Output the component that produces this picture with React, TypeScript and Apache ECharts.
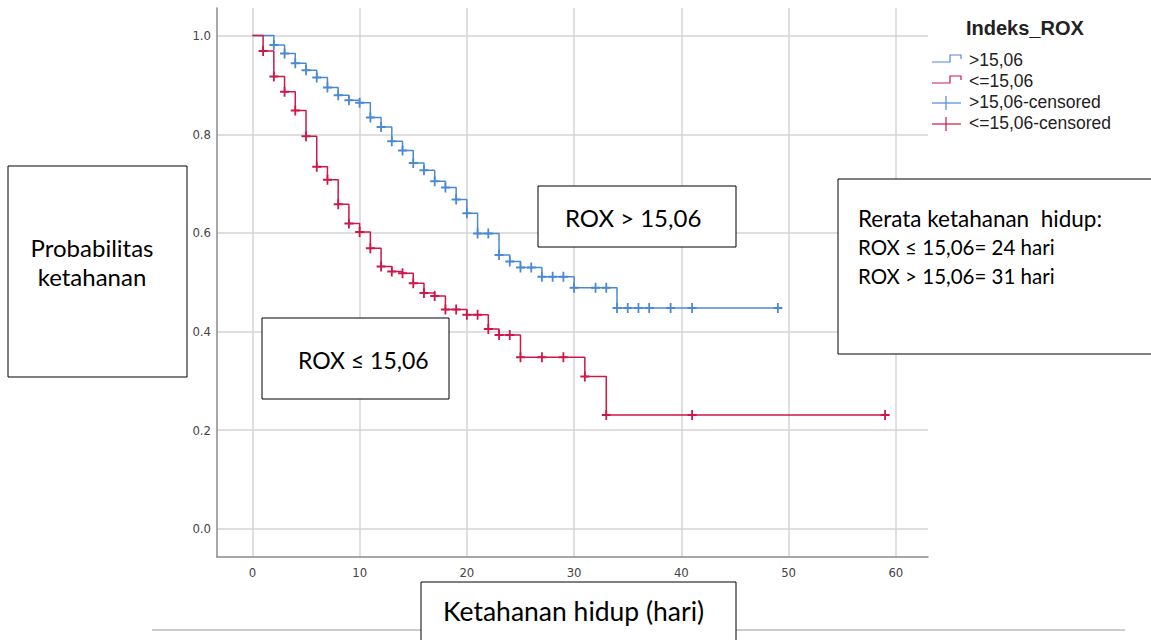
import React, { useEffect, useRef } from "react";
import * as echarts from "echarts";

// ---------- data ----------
const xTicks = [0, 10, 20, 30, 40, 50, 60];
const yTicks = [0, 0.2, 0.4, 0.6, 0.8, 1.0];

const groupHigh = ">15,06";
const groupLow = "<=15,06";
const groupHighCens = ">15,06-censored";
const groupLowCens = "<=15,06-censored";

// Kaplan-Meier step points (time in days, survival probability)
const highTimes = [0, 2, 3, 4, 5, 6, 7, 8, 9, 10, 11, 12, 13, 14, 15, 16, 17, 18, 19, 20, 21, 23, 24, 25, 27, 30, 34, 49];
const highSurv = [1.0, 0.981, 0.964, 0.944, 0.93, 0.915, 0.895, 0.879, 0.869, 0.864, 0.834, 0.815, 0.786, 0.767, 0.742, 0.727, 0.705, 0.692, 0.668, 0.64, 0.599, 0.555, 0.542, 0.53, 0.511, 0.489, 0.448, 0.448];
const highCensored = [2, 3, 4, 5, 6, 7, 8, 9, 10, 11, 12, 13, 14, 15, 16, 17, 18, 19, 20, 21, 22, 23, 24, 25, 26, 27, 28, 29, 30, 32, 33, 34, 35, 36, 37, 39, 41, 49];

const lowTimes = [0, 1, 2, 3, 4, 5, 6, 7, 8, 9, 10, 11, 12, 13, 14, 15, 16, 17, 18, 20, 22, 23, 25, 31, 33, 59];
const lowSurv = [1.0, 0.969, 0.917, 0.886, 0.848, 0.796, 0.734, 0.708, 0.658, 0.619, 0.602, 0.569, 0.532, 0.522, 0.518, 0.498, 0.478, 0.472, 0.445, 0.434, 0.405, 0.393, 0.348, 0.309, 0.231, 0.231];
const lowCensored = [1, 2, 3, 4, 5, 6, 7, 8, 9, 10, 11, 12, 13, 14, 15, 16, 17, 18, 19, 20, 21, 22, 23, 24, 25, 27, 29, 31, 33, 41, 59];

const titleLegend = "Indeks_ROX";
const labelY = ["Probabilitas", "ketahanan"];
const labelX = "Ketahanan hidup (hari)";
const noteHigh = "ROX > 15,06";
const noteLow = "ROX \u2264 15,06";
const noteMean = ["Rerata ketahanan  hidup:", "ROX \u2264 15,06= 24 hari", "ROX > 15,06= 31 hari"];

// ---------- helpers ----------
const BLUE = "#4b8ad3";
const RED = "#cf1748";
const PLUS = "path://M4,0 L6,0 L6,4 L10,4 L10,6 L6,6 L6,10 L4,10 L4,6 L0,6 L0,4 L4,4 Z";

function survAt(times: number[], surv: number[], t: number) {
  let v = surv[0];
  for (let i = 0; i < times.length; i++) if (times[i] <= t) v = surv[i];
  return v;
}

const NOTE_FONT = "Lato, 'Open Sans', sans-serif";

function txt(text: string, x: number, y: number, size: number, extra: any = {}) {
  return {
    type: "text",
    x,
    y,
    z: 101,
    style: {
      text,
      fill: "#000",
      fontSize: size,
      fontFamily: NOTE_FONT,
      align: "left",
      textAlign: "left",
      verticalAlign: "middle",
      textVerticalAlign: "middle",
      ...extra,
    },
  };
}

function box(x: number, y: number, w: number, h: number) {
  return {
    type: "rect",
    z: 100,
    shape: { x, y, width: w, height: h },
    style: { fill: "#fff", stroke: "#000", lineWidth: 1 },
  };
}

export default function App() {
  const ref = useRef<HTMLDivElement>(null);
  useEffect(() => {
    if (!ref.current) return;
    const chart = echarts.init(ref.current, null, { renderer: "svg" });
    const legendFont = "'Liberation Sans', Arial, sans-serif";
    const legendRows = [
      { name: groupHigh, color: BLUE, step: true, y: 60 },
      { name: groupLow, color: RED, step: true, y: 81 },
      { name: groupHighCens, color: BLUE, step: false, y: 102 },
      { name: groupLowCens, color: RED, step: false, y: 123 },
    ];
    const legendEls: any[] = [];
    legendRows.forEach((r) => {
      if (r.step) {
        legendEls.push({
          type: "polyline",
          z: 50,
          shape: { points: [[932, r.y + 2], [950, r.y + 2], [950, r.y - 5], [961, r.y - 5], [961, r.y - 1]] },
          style: { stroke: r.color, lineWidth: 1.2, fill: "none" },
        });
      } else {
        legendEls.push({
          type: "line",
          z: 50,
          shape: { x1: 932, y1: r.y + 1, x2: 961, y2: r.y + 1 },
          style: { stroke: r.color, lineWidth: 1.2 },
        });
        legendEls.push({
          type: "line",
          z: 50,
          shape: { x1: 946, y1: r.y - 6, x2: 946, y2: r.y + 8 },
          style: { stroke: r.color, lineWidth: 1.2 },
        });
      }
      legendEls.push({
        type: "text",
        x: 969,
        y: r.y,
        z: 50,
        style: {
          text: r.name,
          fill: "#222",
          fontSize: 17.5,
          fontFamily: legendFont,
          align: "left",
          textAlign: "left",
          verticalAlign: "middle",
          textVerticalAlign: "middle",
        },
      });
    });

    const option: any = {
      animation: false,
      backgroundColor: "#fff",
      grid: { left: 217, top: 8, right: 223, bottom: 83 },
      xAxis: {
        type: "value",
        min: -3.3,
        max: 63,
        axisLine: { show: true, onZero: false, lineStyle: { color: "#8a8a8a", width: 1.5 } },
        axisTick: { show: false, customValues: xTicks },
        axisLabel: {
          customValues: xTicks,
          color: "#444",
          fontSize: 13,
          fontFamily: "'DejaVu Sans Condensed', 'DejaVu Sans', sans-serif",
          margin: 9,
        },
        splitLine: { show: true, lineStyle: { color: "#d4d4d4", width: 1.5 } },
      },
      yAxis: {
        type: "value",
        min: -0.057,
        max: 1.056,
        axisLine: { show: true, onZero: false, lineStyle: { color: "#8a8a8a", width: 1.5 } },
        axisTick: { show: false, customValues: yTicks },
        axisLabel: {
          customValues: yTicks,
          color: "#444",
          fontSize: 13,
          fontFamily: "'DejaVu Sans Condensed', 'DejaVu Sans', sans-serif",
          margin: 6,
          formatter: (v: number) => v.toFixed(1),
        },
        splitLine: { show: true, lineStyle: { color: "#d4d4d4", width: 1.5 } },
      },
      series: [
        {
          name: groupHigh,
          type: "line",
          step: "end",
          showSymbol: false,
          silent: true,
          data: highTimes.map((t, i) => [t, highSurv[i]]),
          lineStyle: { color: BLUE, width: 1.5 },
          itemStyle: { color: BLUE },
        },
        {
          name: groupLow,
          type: "line",
          step: "end",
          showSymbol: false,
          silent: true,
          data: lowTimes.map((t, i) => [t, lowSurv[i]]),
          lineStyle: { color: RED, width: 1.5 },
          itemStyle: { color: RED },
        },
        {
          name: groupHighCens,
          type: "scatter",
          silent: true,
          symbol: PLUS,
          symbolSize: [9, 10],
          data: highCensored.map((t) => [t, survAt(highTimes, highSurv, t)]),
          itemStyle: { color: BLUE, opacity: 1 },
        },
        {
          name: groupLowCens,
          type: "scatter",
          silent: true,
          symbol: PLUS,
          symbolSize: [9, 10],
          data: lowCensored.map((t) => [t, survAt(lowTimes, lowSurv, t)]),
          itemStyle: { color: RED, opacity: 1 },
        },
      ],
      graphic: [
        {
          type: "text",
          x: 966,
          y: 28,
          z: 50,
          style: {
            text: titleLegend,
            fill: "#222",
            fontSize: 20,
            fontWeight: "bold",
            fontFamily: "'Liberation Sans', Arial, sans-serif",
            align: "left",
            textAlign: "left",
            verticalAlign: "middle",
            textVerticalAlign: "middle",
          },
        },
        ...legendEls,
        {
          type: "line",
          z: 90,
          shape: { x1: 152, y1: 630, x2: 1125, y2: 630 },
          style: { stroke: "#9a9a9a", lineWidth: 1 },
        },
        box(8, 166, 179, 211),
        txt(labelY[0], 92, 247, 24, { align: "center", textAlign: "center" }),
        txt(labelY[1], 92, 276, 24, { align: "center", textAlign: "center" }),
        box(538, 186, 198, 61),
        txt(noteHigh, 565, 217, 24),
        box(838, 179, 330, 175),
        txt(noteMean[0], 858, 218, 22.5),
        txt(noteMean[1], 858, 247, 20.5),
        txt(noteMean[2], 858, 276, 20.5),
        box(262, 318, 187, 81),
        txt(noteLow, 298, 360, 23),
        box(421, 582, 315, 80),
        txt(labelX, 443, 611, 26.5),
      ],
    };
    chart.setOption(option);
    return () => chart.dispose();
  }, []);
  return (
    <div
      ref={ref}
      style={{ position: "fixed", left: 0, top: 0, width: 1151, height: 640, background: "#fff" }}
    />
  );
}
